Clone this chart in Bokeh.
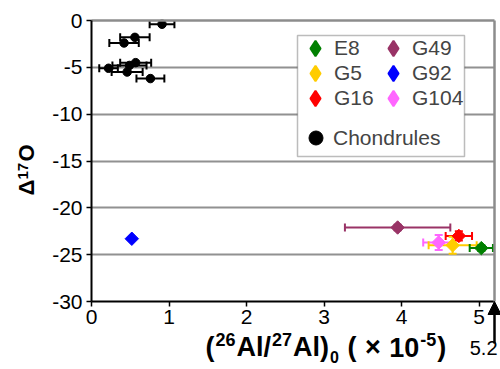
import math
from bokeh.plotting import figure
from bokeh.models import (ColumnDataSource, Whisker, TeeHead, Legend, LegendItem, Range1d,
                          FixedTicker, Arrow, NormalHead, Label, BoxAnnotation, LinearAxis, Grid)
from bokeh.embed import file_html
from bokeh.resources import INLINE

# ---------------- data ----------------
cai_names = ["E8", "G49", "G5", "G92", "G16", "G104"]
cai_x = [5.03, 3.95, 4.66, 0.52, 4.74, 4.48]
cai_y = [-24.3, -22.1, -24.0, -23.3, -23.0, -23.7]
cai_xerr = [0.15, 0.68, 0.31, 0.0, 0.17, 0.20]
cai_yerr = [0.3, 0.3, 0.9, 0.0, 0.5, 0.8]
cai_colors = ["#008000", "#993366", "#FFCC00", "#0000FF", "#FF0000", "#FF66FF"]

ch_x = [0.91, 0.56, 0.42, 0.57, 0.49, 0.22, 0.46, 0.76]
ch_y = [-0.4, -1.8, -2.4, -4.5, -4.8, -5.1, -5.5, -6.2]
ch_xerr = [0.16, 0.19, 0.19, 0.20, 0.22, 0.12, 0.20, 0.18]

x_ticks = [0, 1, 2, 3, 4, 5]
y_ticks = [0, -5, -10, -15, -20, -25, -30]
x_min, x_max = 0, 5.2
y_min, y_max = -30, 0
FONT = "Liberation Sans"

# ---------------- layout (pixels) ----------------
W, H = 500, 369
PL, PR, PT, PB = 91, 494, 20, 301          # plotting area edges
kx = (PR - PL) / (x_max - x_min)
ky = (PB - PT) / (y_max - y_min)
xr = Range1d(x_min - PL / kx, x_max + (W - PR) / kx)
yr = Range1d(y_min - (H - PB) / ky, y_max + PT / ky)

p = figure(width=W, height=H, x_range=xr, y_range=yr, output_backend="svg",
           toolbar_location=None, min_border=0)
p.background_fill_color = "white"
p.border_fill_color = "white"
p.outline_line_color = None

def style_axis(ax, ticks):
    ax.ticker = FixedTicker(ticks=ticks)
    ax.major_label_overrides = {t: str(t) for t in ticks}
    ax.major_label_text_font = FONT
    ax.major_label_text_font_size = "21px"
    ax.major_label_text_color = "black"
    ax.axis_line_color = "black"
    ax.axis_line_width = 2
    ax.major_tick_line_color = "black"
    ax.major_tick_line_width = 1.5
    ax.major_tick_out = 5
    ax.major_tick_in = 0
    ax.minor_tick_line_color = None

xa = p.xaxis[0]
ya = p.yaxis[0]
style_axis(xa, x_ticks)
style_axis(ya, y_ticks)
xa.fixed_location = y_min
xa.bounds = (x_min, x_max)
xa.major_label_standoff = 3
ya.fixed_location = x_min
ya.bounds = (y_min, y_max)
ya.major_label_standoff = 4

# gray top / right frame lines
for loc, fl, bd in (("above", y_max, (x_min, x_max)), ("right", x_max, (y_min, y_max))):
    a = LinearAxis(fixed_location=fl, bounds=bd, ticker=FixedTicker(ticks=[]),
                   axis_line_color="#8c8c8c", axis_line_width=2.5,
                   major_tick_line_color=None, minor_tick_line_color=None,
                   major_label_text_font_size="0px")
    p.add_layout(a, loc)

p.xgrid.visible = False
yg = p.ygrid[0]
yg.ticker = FixedTicker(ticks=y_ticks[1:-1])
yg.grid_line_color = "#222222"
yg.grid_line_width = 2
yg.grid_line_dash = "1 1"
if "cross_bounds" in Grid.properties():
    yg.cross_bounds = (x_min, x_max)
    yg.bounds = (y_min, y_max)
else:
    yg.visible = False
    for t in y_ticks[1:-1]:
        p.add_layout(LinearAxis(fixed_location=t, bounds=(x_min, x_max),
                                ticker=FixedTicker(ticks=[]), axis_line_color="#222222",
                                axis_line_width=2, axis_line_dash="1 1",
                                major_tick_line_color=None, minor_tick_line_color=None,
                                major_label_text_font_size="0px"), "above")

# ---------------- chondrules ----------------
ch_src = ColumnDataSource(dict(x=ch_x, y=ch_y,
                               lo=[a - e for a, e in zip(ch_x, ch_xerr)],
                               hi=[a + e for a, e in zip(ch_x, ch_xerr)]))
p.add_layout(Whisker(source=ch_src, base="y", lower="lo", upper="hi", dimension="width",
                     line_color="black", line_width=2,
                     lower_head=TeeHead(size=8, line_color="black", line_width=2),
                     upper_head=TeeHead(size=8, line_color="black", line_width=2)))
ch_r = p.scatter("x", "y", source=ch_src, marker="circle", size=8.5,
                 fill_color="black", line_color="black")

# ---------------- CAIs ----------------
leg_r = {}
draw_order = ["G49", "G92", "G104", "G16", "G5", "E8"]
for n in draw_order:
    i = cai_names.index(n)
    c = cai_colors[i]
    src = ColumnDataSource(dict(x=[cai_x[i]], y=[cai_y[i]],
                                xl=[cai_x[i] - cai_xerr[i]], xh=[cai_x[i] + cai_xerr[i]],
                                yl=[cai_y[i] - cai_yerr[i]], yh=[cai_y[i] + cai_yerr[i]]))
    if cai_xerr[i] > 0:
        p.add_layout(Whisker(source=src, base="y", lower="xl", upper="xh", dimension="width",
                             line_color=c, line_width=2,
                             lower_head=TeeHead(size=8, line_color=c, line_width=2),
                             upper_head=TeeHead(size=8, line_color=c, line_width=2)))
    if cai_yerr[i] > 0:
        p.add_layout(Whisker(source=src, base="x", lower="yl", upper="yh", dimension="height",
                             line_color=c, line_width=2,
                             lower_head=TeeHead(size=8, line_color=c, line_width=2),
                             upper_head=TeeHead(size=8, line_color=c, line_width=2)))
    p.scatter("x", "y", source=src, marker="square", angle=math.pi / 4, size=9.5,
              fill_color=c, line_color=c)
    # legend symbol proxy (never drawn in the plot area)
    leg_r[n] = p.scatter(x=[float("nan")], y=[float("nan")], marker="diamond",
                         fill_color=c, line_color=c, line_width=2)

# ---------------- legend ----------------
p.add_layout(BoxAnnotation(left=x_min + (297 - PL) / kx, right=x_min + (464 - PL) / kx,
                           top=y_max - (35 - PT) / ky, bottom=y_max - (156 - PT) / ky,
                           fill_color="white", fill_alpha=1.0,
                           line_color="#222222", line_width=1.5))

def add_legend(label, rend, cx, cy, G, text_dx):
    leg = Legend(items=[LegendItem(label=label, renderers=[rend])],
                 location=(cx - G // 2, H - (cy + G // 2)), padding=0, margin=0, spacing=0,
                 glyph_width=G, glyph_height=G, label_height=G,
                 label_standoff=int(text_dx - G // 2),
                 label_text_font=FONT, label_text_font_size="21px",
                 border_line_alpha=0, background_fill_alpha=0)
    p.add_layout(leg, "center")

col_x = [315, 393]
row_y = [48, 73, 98]
leg_grid = [["E8", "G5", "G16"], ["G49", "G92", "G104"]]
for ci, names in enumerate(leg_grid):
    for ri, n in enumerate(names):
        add_legend(n, leg_r[n], col_x[ci], row_y[ri], 38, 14)
add_legend("Chondrules", ch_r, 315, 138, 35, 15)

# ---------------- axis titles (screen units from bottom-left of canvas) ----------------
def lab(text, px, base, size, bold=True, angle=0.0, align="left"):
    # `base` is the wanted baseline (page px); the renderer centres glyphs ~0.35em lower
    shift = 0.35 * size
    if angle == 0.0:
        x, y = px, H - (base - shift)
    else:
        x, y = base - shift, H - px
    p.add_layout(Label(x=x, y=y, x_units="screen", y_units="screen", text=text,
                       text_font=FONT, text_font_size=f"{size}px",
                       text_font_style="bold" if bold else "normal",
                       text_align=align, text_baseline="alphabetic", angle=angle,
                       text_color="black"))

# approximate advance widths (em) of the bold sans font, for sequential placement
ADV = {"(": 0.333, ")": 0.333, "A": 0.722, "l": 0.278, "/": 0.278, "-": 0.333,
       "\u00d7": 0.584, " ": 0.278, **{d: 0.556 for d in "0123456789"}}
MAIN, SMALL = 27, 18
MB, SB, SUB = 356, 345, 362
pieces = [("(", MAIN, MB), ("26", SMALL, SB), ("Al/", MAIN, MB), ("27", SMALL, SB),
          ("Al)", MAIN, MB), ("0", SMALL - 2, SUB), (" (", MAIN, MB), (" \u00d7 ", MAIN, MB),
          ("10", MAIN, MB), ("-5", SMALL, SB), (")", MAIN, MB)]
widths = [sum(ADV[ch] for ch in t) * s + 1 for t, s, _ in pieces]
cx = 205
for (t, s, b), w in zip(pieces, widths):
    lead = len(t) - len(t.lstrip(" "))
    lab(t.strip(" "), cx + lead * ADV[" "] * s, b, s)
    cx += w

# rotated y title: text runs upward, px = start (page y), base = baseline (page x)
lab("\u0394", 195, 34, 22, angle=math.pi / 2)
lab("17", 179, 28, 15, angle=math.pi / 2)
lab("O", 161, 34, 22, angle=math.pi / 2)

# 5.2 marker below the axis end
p.add_layout(Arrow(x_start=x_max, y_start=y_max - (343 - PT) / ky, x_end=x_max, y_end=y_min,
                   line_color="black", line_width=2.5,
                   end=NormalHead(size=13, fill_color="black", line_color="black")))
lab(str(x_max), 497, 354, 20, bold=False, align="right")

open("out.html", "w").write(file_html(p, INLINE))
